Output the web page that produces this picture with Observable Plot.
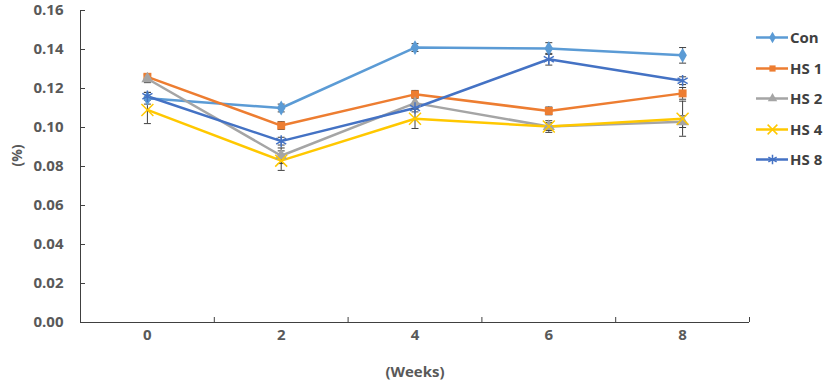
<!DOCTYPE html>
<html>
<head>
<meta charset="utf-8">
<script src="https://cdn.jsdelivr.net/npm/d3@7"></script>
<script src="https://cdn.jsdelivr.net/npm/@observablehq/plot@0.6"></script>
<style>
  html, body { margin: 0; padding: 0; background: #fff; }
  #wrap { position: relative; width: 827px; height: 392px; font-family: "Open Sans", sans-serif; }
  #legend { position: absolute; left: 756px; top: 22px; }
  .row { display: flex; align-items: center; height: 30.5px; }
  .row span { font-weight: 700; font-size: 15px; color: #404040; margin-left: 2px; }
</style>
</head>
<body>
<div id="wrap"><div id="chart"></div><div id="legend"></div></div>
<script>
const weeks = [0, 2, 4, 6, 8];
const seriesNames = ["Con", "HS 1", "HS 2", "HS 4", "HS 8"];
const con = [0.115, 0.110, 0.141, 0.1405, 0.137];
const hs1 = [0.126, 0.101, 0.117, 0.1085, 0.1175];
const hs2 = [0.125, 0.0855, 0.1125, 0.1005, 0.103];
const hs4 = [0.109, 0.083, 0.1045, 0.1005, 0.1045];
const hs8 = [0.116, 0.093, 0.110, 0.135, 0.124];
const conErr = [0.003, 0.002, 0.002, 0.003, 0.004];
const hs1Err = [0.001, 0.002, 0.002, 0.002, 0.003];
const hs2Err = [0.002, 0.004, 0.003, 0.003, 0.003];
const hs4Err = [0.007, 0.005, 0.005, 0.002, 0.009];
const hs8Err = [0.002, 0.002, 0.002, 0.003, 0.002];
const yTicks = [0, 0.02, 0.04, 0.06, 0.08, 0.10, 0.12, 0.14, 0.16];
const xBounds = [-1, 1, 3, 5, 7, 9];

const colors = ["#5B9BD5", "#ED7D31", "#A5A5A5", "#FFC800", "#4472C4"];
const symbols = ["diamond", "square", "triangle", "times", "asterisk"];
const filled = [true, true, true, false, false];
const values = [con, hs1, hs2, hs4, hs8];
const errs = [conErr, hs1Err, hs2Err, hs4Err, hs8Err];

const data = [];
seriesNames.forEach((s, i) => weeks.forEach((w, j) => data.push({series: s, week: w, value: values[i][j], err: errs[i][j], idx: i})));

const cap = { draw(ctx, size) { ctx.moveTo(-3.5, 0); ctx.lineTo(3.5, 0); } };
const blank = () => "";

const marks = [
  Plot.ruleY([yTicks[0]], {stroke: "#404040", strokeWidth: 1}),
  Plot.ruleX([xBounds[0]], {stroke: "#404040", strokeWidth: 1}),
  Plot.axisY({ticks: yTicks, tickSize: -5, tickFormat: blank, label: null, stroke: "#404040"}),
  Plot.axisY({ticks: yTicks, tickSize: 0, tickPadding: 17, tickFormat: d3.format(".2f"), fontSize: 15, fontWeight: 700, fill: "#595959", label: null}),
  Plot.axisX({ticks: xBounds, tickSize: -5, tickFormat: blank, label: null, stroke: "#404040"}),
  Plot.axisX({ticks: weeks, tickSize: 0, tickPadding: 7, tickFormat: d => String(d), fontSize: 15, fontWeight: 700, fill: "#595959", label: null}),
  Plot.text(["(%)"], {frameAnchor: "left", dx: -63, rotate: -90, fontSize: 14, fontWeight: 700, fill: "#595959"}),
  Plot.text(["(Weeks)"], {frameAnchor: "bottom", dy: 54, fontSize: 15, fontWeight: 700, fill: "#595959"})
];
seriesNames.forEach((s, i) => {
  const d = data.filter(r => r.idx === i);
  marks.push(Plot.line(d, {x: "week", y: "value", stroke: colors[i], strokeWidth: 2.5}));
});
marks.push(Plot.ruleX(data, {x: "week", y1: d => d.value - d.err, y2: d => d.value + d.err, stroke: "#404040", strokeWidth: 1}));
marks.push(Plot.dot(data, {x: "week", y: d => d.value - d.err, symbol: cap, stroke: "#404040", strokeWidth: 1}));
marks.push(Plot.dot(data, {x: "week", y: d => d.value + d.err, symbol: cap, stroke: "#404040", strokeWidth: 1}));
seriesNames.forEach((s, i) => {
  const d = data.filter(r => r.idx === i);
  marks.push(Plot.dot(d, filled[i]
    ? {x: "week", y: "value", symbol: symbols[i], fill: colors[i], r: 4.5}
    : {x: "week", y: "value", symbol: symbols[i], stroke: colors[i], strokeWidth: 1.5, r: 5.5}));
});

const chart = Plot.plot({
  width: 755,
  height: 392,
  marginLeft: 80,
  marginRight: 6,
  marginTop: 10,
  marginBottom: 70,
  style: {fontFamily: "'Open Sans', sans-serif", background: "white"},
  x: {domain: [xBounds[0], xBounds[xBounds.length - 1]], axis: null},
  y: {domain: [yTicks[0], yTicks[yTicks.length - 1]], axis: null},
  marks
});
document.getElementById("chart").appendChild(chart);

const legend = document.getElementById("legend");
seriesNames.forEach((s, i) => {
  const row = document.createElement("div");
  row.className = "row";
  const svg = Plot.plot({
    width: 32, height: 14, margin: 0,
    x: {domain: [0, 1], axis: null}, y: {domain: [0, 1], axis: null},
    marks: [
      Plot.ruleY([0.5], {stroke: colors[i], strokeWidth: 2.5}),
      Plot.dot([{x: 0.5, y: 0.5}], filled[i]
        ? {x: "x", y: "y", symbol: symbols[i], fill: colors[i], r: 3.5}
        : {x: "x", y: "y", symbol: symbols[i], stroke: colors[i], strokeWidth: 1.5, r: 4.5})
    ]
  });
  row.appendChild(svg);
  const label = document.createElement("span");
  label.textContent = s;
  row.appendChild(label);
  legend.appendChild(row);
});
</script>
</body>
</html>
